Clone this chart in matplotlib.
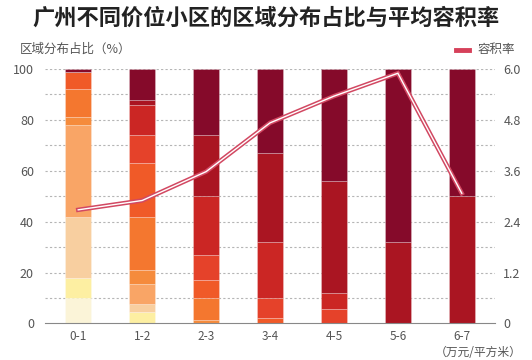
import matplotlib
matplotlib.use("Agg")
import matplotlib.pyplot as plt
import numpy as np

plt.rcParams["font.family"] = ["Noto Sans CJK SC", "DejaVu Sans"]

# price bands (10k yuan / m2)
categories = ["0-1", "1-2", "2-3", "3-4", "4-5", "5-6", "6-7"]

# regional share (%) per band, stacked from lightest (bottom) to darkest (top)
lvl0 = [10, 0, 0, 0, 0, 0, 0]
lvl1 = [8, 4.5, 0, 0, 0, 0, 0]
lvl2 = [24, 3.2, 0, 0, 0, 0, 0]
lvl3 = [36, 7.8, 0, 0, 0, 0, 0]
lvl4 = [3, 5.5, 1.5, 0, 0, 0, 0]
lvl5 = [11, 21, 8.5, 0, 0, 0, 0]
lvl6 = [7, 21, 7, 2, 0, 0, 0]
lvl7 = [0, 11, 10, 8, 5.7, 0, 0]
lvl8 = [0, 12, 23, 22, 6.3, 0, 0]
lvl9 = [0, 2, 24, 35, 44, 32, 50]
lvl10 = [1, 12, 26, 33, 44, 68, 50]

# average plot ratio (容积率)
plot_ratio = [2.68, 2.9, 3.58, 4.73, 5.36, 5.9, 3.07]

level_colors = [
    "#FBF4D8", "#FDEFA2", "#F8CFA0", "#F9A566", "#F58B3C", "#F4772F",
    "#F05A28", "#E5422A", "#CB2624", "#AA1522", "#850A2A",
]

fig = plt.figure(figsize=(5.32, 3.6), dpi=100)
ax = fig.add_axes([0.0846, 0.1014, 0.8459, 0.7069])

x = np.arange(len(categories))
levels = [lvl0, lvl1, lvl2, lvl3, lvl4, lvl5, lvl6, lvl7, lvl8, lvl9, lvl10]
bottom = np.zeros(len(categories))
for vals, col in zip(levels, level_colors):
    vals = np.array(vals, dtype=float)
    ax.bar(x, vals, width=0.41, bottom=bottom, color=col,
           edgecolor=(1, 1, 1, 0.35), linewidth=0.5, zorder=2)
    bottom += vals

ax.set_xlim(-0.52, 6.52)
ax.set_ylim(0, 100)
ax.set_yticks(range(0, 101, 10), minor=False)
ax.set_yticks(range(0, 101, 20))
for yv in range(10, 101, 10):
    ax.axhline(yv, color="#b5b5b5", lw=0.8, ls=(0, (2, 2)), zorder=1)

for s in ["top", "right", "left"]:
    ax.spines[s].set_visible(False)
ax.spines["bottom"].set_color("#888888")
ax.spines["bottom"].set_linewidth(0.8)

ax.tick_params(axis="y", length=0, pad=8, labelsize=9, labelcolor="#555555")
ax.tick_params(axis="x", length=0, pad=5, labelsize=8.5, labelcolor="#555555")
ax.set_xticks(x)
ax.set_xticklabels(categories)

ax2 = ax.twinx()
ax2.set_ylim(0, 6.0)
ax2.set_yticks([0, 1.2, 2.4, 3.6, 4.8, 6.0])
ax2.set_yticklabels(["0", "1.2", "2.4", "3.6", "4.8", "6.0"])
ax2.tick_params(axis="y", length=0, pad=6, labelsize=9, labelcolor="#555555")
for s in ["top", "right", "left", "bottom"]:
    ax2.spines[s].set_visible(False)
ax2.plot(x, plot_ratio, color="#D24862", lw=3.2, zorder=5, solid_joinstyle="miter")
ax2.plot(x, plot_ratio, color="white", lw=1.0, zorder=6, solid_joinstyle="miter")

fig.text(0.5, 0.95, "广州不同价位小区的区域分布占比与平均容积率", ha="center",
         va="center", fontsize=16, fontweight="bold", color="#222222")
fig.text(0.038, 0.862, "区域分布占比（%）", ha="left", va="center",
         fontsize=9, color="#555555")
fig.text(0.968, 0.862, "容积率", ha="right", va="center",
         fontsize=9, color="#555555")
fig.add_artist(plt.Line2D([0.857, 0.882], [0.862, 0.862], color="#D6405A",
                          lw=3.5, transform=fig.transFigure))
fig.text(0.898, 0.022, "（万元/平方米）", ha="center", va="center",
         fontsize=8.5, color="#555555")

fig.savefig("out.png", dpi=100, facecolor="white")
